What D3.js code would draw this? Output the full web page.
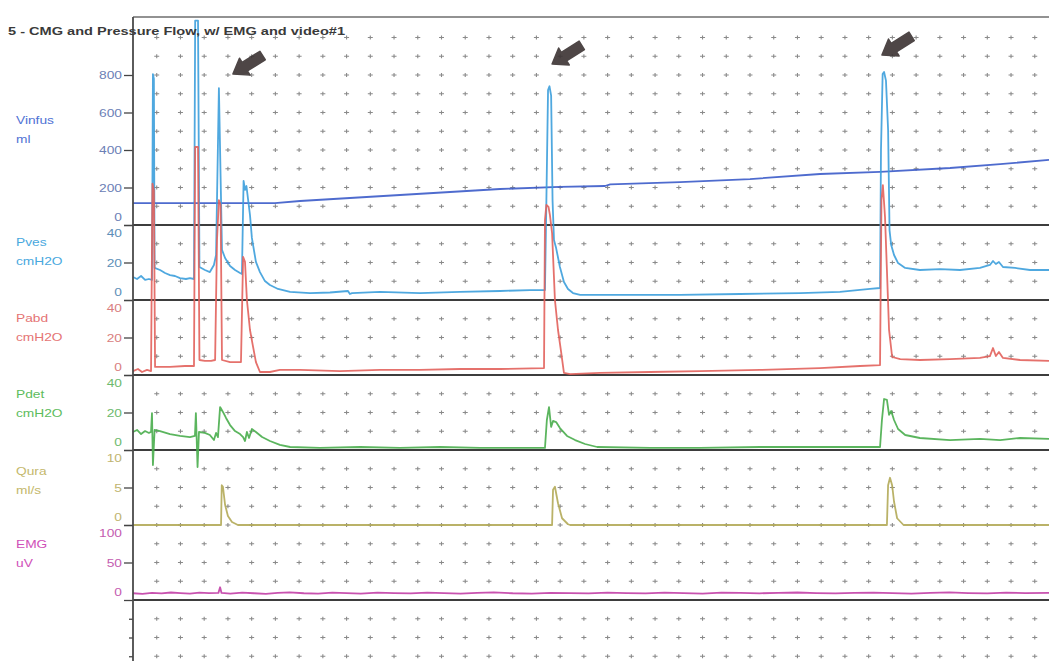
<!DOCTYPE html>
<html>
<head>
<meta charset="utf-8">
<script src="https://cdn.jsdelivr.net/npm/d3@7"></script>
<style>
  body { margin: 0; background: #fff; }
  svg { display: block; }
  text { font-family: "Liberation Sans", Arial, sans-serif; }
</style>
</head>
<body>
<svg id="chart" width="1049" height="661"></svg>
<script>
// time in seconds, one grid column = 10 s
const vinfus = [[0,117],[59.8,117],[70.4,128],[91.4,144],[112.5,160],[133.6,176],[154.7,192],[179.9,203],[198.9,208],[201.1,217],[230.5,229],[260,245],[289.5,272],[314.8,283],[344.3,304],[365.4,325],[386,347]];

const pves = [[0,12.3],[1.7,11.2],[3.4,12.8],[5.1,10.7],[6.7,11.2],[8.0,10.7],[8.4,120.5],[8.8,118],[9.1,17.1],[11.4,16],[13.5,14.4],[15.6,13.3],[17.7,12.8],[19.8,11.7],[22.3,11.2],[24.0,11.7],[25.7,11.2],[26.2,149],[27.4,149],[28.0,17.6],[30.3,16],[32.4,14.9],[34.1,18.7],[35.0,24],[36.2,113],[37.5,26.7],[38.8,22.4],[40.9,18.1],[43.0,16],[45.1,14.4],[45.9,13.9],[46.6,63.5],[47.2,58.7],[47.8,60.8],[49.3,45.3],[50.1,33.1],[51.8,20.3],[53.5,14.9],[55.6,10.1],[57.7,8],[61.1,5.9],[66.2,4.3],[74.6,3.7],[83.0,4.0],[90.6,4.8],[91.4,3.2],[92.3,3.7],[104.1,4.3],[120.9,3.7],[137.8,4.3],[154.7,4.8],[167.3,5.3],[173.6,5.3],[174.2,53],[174.9,112],[175.5,114],[176.2,109],[176.8,53],[177.4,32],[178.3,27.7],[179.9,17.6],[181.6,9.6],[183.3,5.9],[185.4,3.7],[188.4,2.7],[205.2,2.7],[230.5,2.7],[255.8,3.2],[281.1,3.7],[297.9,4.3],[310.6,5.9],[314.8,6.4],[315.2,80],[315.9,120.5],[316.5,121.6],[317.3,117],[318.2,90.7],[318.8,37.3],[319.5,29.3],[320.7,24],[322.4,19.7],[325.4,17.1],[331.6,16],[340.1,16.5],[348.5,16],[356.9,17.1],[361.1,18.7],[362.4,20.8],[363.6,19.2],[364.9,20.3],[366.6,17.6],[371.7,17.1],[378.0,16],[386,16]];

const pabd = [[0,2.1],[2.1,3.2],[3.8,1.6],[5.9,2.7],[7.6,2.1],[8.2,102],[8.8,98.7],[9.3,4.3],[15.6,4.3],[21.9,4.8],[25.7,4.8],[26.2,121.6],[27.4,121.6],[28.0,8],[30.3,7.5],[32.9,7.5],[34.6,8],[35.4,72],[36.2,93.3],[36.9,90.7],[37.5,8],[40.9,6.9],[45.5,6.9],[46.4,63],[47.2,60.3],[48.0,40],[49.3,24],[50.6,15],[51.8,6.9],[53.5,1.6],[57.7,1.6],[61.9,2.7],[70.4,2.7],[87.2,2.1],[104.1,2.7],[120.9,2.7],[137.8,3.2],[154.7,3.2],[173.2,3.7],[173.6,82.7],[174.2,90.7],[175.1,89.6],[175.7,85.3],[176.6,75.7],[177.8,40],[179.1,24],[180.3,13.3],[181.6,1.1],[184.2,0.5],[196.8,1.1],[217.9,1.6],[238.9,2.1],[264.3,2.7],[289.5,3.7],[306.4,4.8],[314.8,5.3],[315.4,93.3],[316.0,101.3],[316.9,84.3],[317.7,56],[318.6,24],[319.9,9.6],[323.3,8.5],[331.6,8],[344.3,8.5],[356.9,9.1],[361.1,10.1],[362.4,14.4],[363.6,10.1],[364.9,12.3],[366.6,9.1],[373.8,8],[386,7.5]];

const pdet = [[0,9.6],[1.7,10.7],[3.4,8.5],[5.1,10.1],[6.7,9.1],[7.6,9.6],[8.0,19.7],[8.4,-8],[9.1,10.7],[11.4,10.1],[15.6,8.5],[19.8,7.5],[24.0,6.9],[26.1,7.5],[26.5,19.7],[27.2,-9.1],[27.8,9.6],[30.3,9.1],[32.4,8],[34.1,5.3],[35.0,9.1],[35.8,6.9],[36.7,22.9],[37.9,20.3],[39.2,17.1],[40.9,13.3],[43.0,10.1],[45.1,8.5],[46.4,6.9],[47.2,4.8],[48.0,9.6],[48.9,6.4],[50.1,11.2],[51.8,9.6],[54.4,6.9],[57.7,4.8],[61.9,2.7],[66.2,1.6],[78.8,1.1],[95.7,1.6],[112.5,1.1],[129.4,1.6],[146.2,1.1],[163.1,1.1],[173.6,1.1],[174.4,16],[175.3,22.9],[176.2,12.3],[177.0,15.5],[178.3,14.9],[179.9,11.7],[182.9,7.5],[186.3,5.3],[190.5,3.2],[195.6,1.6],[217.9,1.1],[238.9,1.1],[264.3,1.6],[289.5,1.6],[314.8,1.6],[315.6,16],[316.5,27.2],[317.7,26.7],[318.6,18.7],[319.5,20.8],[320.7,16],[322.4,11.2],[325.4,8],[331.6,6.4],[344.3,5.3],[356.9,5.9],[365.4,5.3],[373.8,6.4],[386,5.9]];

const qura = [[0,0],[37.1,0],[37.4,5.3],[37.9,5.1],[38.8,2.7],[40.0,1.2],[41.7,0.4],[44.2,0],[176.6,0],[177.0,4.7],[177.8,5.1],[179.1,2.9],[180.8,0.9],[183.3,0.1],[184.2,0],[317.7,0],[318.2,5.3],[319.0,6.3],[319.9,5.3],[320.7,3.1],[322.0,0.9],[324.7,0],[386,0]];

const emg = [[0,9],[4,8.2],[8,9.6],[12,8.8],[16,10],[20,9.1],[24,8.4],[28,9.8],[32,9.2],[36,9.5],[36.7,17],[37.3,9.4],[41,8.6],[46,9.9],[51,9],[56,8.3],[61,9.6],[66,10.2],[72,9],[78,8.5],[84,9.7],[90,9.1],[96,8.6],[103,9.8],[110,9.3],[117,8.7],[124,9.9],[131,9.2],[138,8.6],[145,9.5],[152,10.1],[160,9],[168,8.5],[176,9.6],[184,9.2],[192,8.7],[200,9.8],[208,9.3],[216,8.8],[224,9.7],[232,9.1],[240,8.6],[248,9.9],[256,9.4],[264,8.9],[272,9.6],[280,10],[288,9.2],[296,8.7],[304,9.5],[312,9.9],[320,9.2],[328,8.6],[336,9.6],[344,10.1],[352,9.3],[360,8.8],[368,9.7],[376,9.2],[386,9.6]];

// tick labels
const vinTicks = [0, 200, 400, 600, 800];
const vinMinor = [100, 300, 500, 700, 900, 1000];
const presTicks = [0, 20, 40];
const presMinor = [10, 30];
const quraTicks = [0, 5, 10];
const quraMinor = [2.5, 7.5];
const emgTicks = [0, 50, 100];
const emgMinor = [25, 75];

// arrow marks: [time, Vinfus value at tip]
const arrowSpots = [[42.1, 805], [176.6, 859], [315.6, 907]];

const title = "5 - CMG and Pressure Flow, w/ EMG and video#1";

const svg = d3.select("#chart");
const plotLeft = 133, plotRight = 1049, plotTop = 17, plotBottom = 661;
const stretch = 1.25;

const x = d3.scaleLinear().domain([0, 386]).range([plotLeft, plotRight]);

const panels = [
  {data: vinfus, name: "Vinfus", unit: "ml", y: d3.scaleLinear().domain([0, 1000]).range([225, 37.5]),
   major: vinTicks, minor: vinMinor, grid: vinMinor.concat([200, 400, 600, 800]), max: null,
   line: "#3b5bc9", label: "#4f72d4", tick: "#6b80b6", nameY: 124},
  {data: pves, name: "Pves", unit: "cmH2O", y: d3.scaleLinear().domain([0, 40]).range([300, 225]),
   major: presTicks, minor: presMinor, grid: [10, 20, 30], max: 40,
   line: "#3c9fdc", label: "#48a8de", tick: "#5d8fb8", nameY: 246},
  {data: pabd, name: "Pabd", unit: "cmH2O", y: d3.scaleLinear().domain([0, 40]).range([375, 300]),
   major: presTicks, minor: presMinor, grid: [10, 20, 30], max: 40,
   line: "#e2625c", label: "#e57474", tick: "#d98080", nameY: 322},
  {data: pdet, name: "Pdet", unit: "cmH2O", y: d3.scaleLinear().domain([0, 40]).range([450, 375]),
   major: presTicks, minor: presMinor, grid: [10, 20, 30], max: 40,
   line: "#49ad4c", label: "#5cbc5c", tick: "#6dba6d", nameY: 398},
  {data: qura, name: "Qura", unit: "ml/s", y: d3.scaleLinear().domain([0, 10]).range([525, 450]),
   major: quraTicks, minor: quraMinor, grid: [0, 2.5, 5, 7.5], max: 10,
   line: "#b2aa58", label: "#c4b86c", tick: "#bfb470", nameY: 475},
  {data: emg, name: "EMG", unit: "uV", y: d3.scaleLinear().domain([0, 100]).range([600, 525]),
   major: emgTicks, minor: emgMinor, grid: [25, 50, 75], max: 100,
   line: "#c23fa6", label: "#cf50b8", tick: "#c45cb0", nameY: 548}
];

// empty strip under the EMG channel
const blank = d3.scaleLinear().domain([0, 1]).range([600, 618.75]);
const blankRows = [1, 2, 3];

// grid crosses
const cols = d3.range(10, 386, 10);
const rowsY = [];
panels.forEach(p => p.grid.forEach(v => rowsY.push(p.y(v))));
blankRows.forEach(v => rowsY.push(blank(v)));
const gridG = svg.append("g").attr("stroke", "#8a8a8a").attr("stroke-width", 1.1);
rowsY.forEach(yy => {
  cols.forEach(c => {
    const xx = x(c);
    gridG.append("path").attr("d", `M${xx - 2.5},${yy}H${xx + 2.5}M${xx},${yy - 2}V${yy + 2}`);
  });
});

// frame
svg.append("line").attr("x1", plotLeft).attr("x2", plotRight).attr("y1", plotTop).attr("y2", plotTop)
  .attr("stroke", "#6e6e6e").attr("stroke-width", 1.5);
const seps = [panels[0].y(0), panels[1].y(0), panels[2].y(0), panels[3].y(0), panels[5].y(0)];
svg.selectAll("line.sep").data(seps).join("line").attr("class", "sep")
  .attr("x1", plotLeft).attr("x2", plotRight).attr("y1", d => d).attr("y2", d => d)
  .attr("stroke", "#3d3d3d").attr("stroke-width", 1.8);

// traces
panels.forEach(p => {
  const line = d3.line().x(d => x(d[0])).y(d => p.y(d[1]));
  svg.append("path").datum(p.data).attr("d", line)
    .attr("fill", "none").attr("stroke", p.line).attr("stroke-width", 1.8)
    .attr("stroke-linejoin", "round").attr("opacity", 0.9);
});

// axes
panels.forEach(p => {
  const g = svg.append("g").attr("transform", `translate(${plotLeft},0)`);
  g.call(d3.axisLeft(p.y).tickValues(p.minor).tickSize(4).tickFormat(""));
  g.call(d3.axisLeft(p.y).tickValues(p.major).tickSize(9).tickPadding(2).tickFormat(d3.format("d")));
  g.select(".domain").remove();
  g.selectAll("line").attr("stroke", "#444").attr("stroke-width", 1.3);
  g.selectAll("text")
    .attr("font-size", 11).attr("fill", p.tick)
    .attr("x", -11 / stretch)
    .attr("transform", `scale(${stretch},1)`)
    .attr("y", d => d === 0 ? -8 : (d === p.max ? 8 : 0));
});
const bg = svg.append("g").attr("transform", `translate(${plotLeft},0)`);
bg.call(d3.axisLeft(blank).tickValues(blankRows).tickSize(4).tickFormat(""));
bg.select(".domain").remove();
bg.selectAll("line").attr("stroke", "#444").attr("stroke-width", 1.3);

svg.append("line").attr("x1", plotLeft).attr("x2", plotLeft).attr("y1", plotTop).attr("y2", plotBottom)
  .attr("stroke", "#4a4a4a").attr("stroke-width", 1.8);

// channel names
panels.forEach(p => {
  [[p.name, p.nameY], [p.unit, p.nameY + 19]].forEach(([t, yy]) => {
    svg.append("text").attr("transform", `translate(16,${yy}) scale(${stretch},1)`)
      .attr("font-size", 11).attr("fill", p.label).text(t);
  });
});

// arrows
const vy = panels[0].y;
arrowSpots.forEach(a => {
  svg.append("path")
    .attr("transform", `translate(${x(a[0])},${vy(a[1])}) rotate(-32)`)
    .attr("d", "M0,0L14,-10L14,-5L35,-5L35,5L14,5L14,10Z")
    .attr("fill", "#3b3333").attr("stroke", "#3b3333").attr("stroke-width", 1.5)
    .attr("stroke-linejoin", "round").attr("opacity", 0.9);
});

// title
svg.append("text").attr("x", 8).attr("y", 35)
  .attr("font-size", 11).attr("font-weight", "bold").attr("fill", "#3a3a3a")
  .attr("textLength", 337).attr("lengthAdjust", "spacingAndGlyphs")
  .text(title);
</script>
</body>
</html>
